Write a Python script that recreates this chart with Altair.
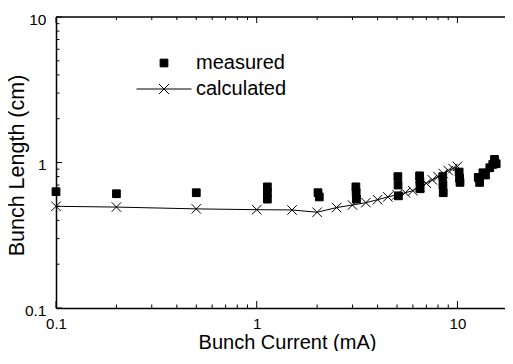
import altair as alt
import pandas as pd

# ---- data ----
measured_current = [0.1, 0.2, 0.5,
                    1.13, 1.13, 1.13,
                    2.02, 2.05,
                    3.12, 3.13, 3.14,
                    5.05, 5.06, 5.08,
                    6.48, 6.5, 6.52,
                    8.45, 8.47, 8.5,
                    10.2, 10.25, 10.3,
                    12.7, 12.9, 13.4, 13.8, 14.5, 15.0, 15.3, 15.6]
measured_length = [0.63, 0.61, 0.62,
                   0.68, 0.62, 0.56,
                   0.62, 0.58,
                   0.68, 0.62, 0.56,
                   0.80, 0.70, 0.59,
                   0.81, 0.74, 0.66,
                   0.80, 0.70, 0.62,
                   0.86, 0.78, 0.73,
                   0.79, 0.73, 0.85, 0.82, 0.92, 0.97, 1.05, 0.98]

calc_current = [0.1, 0.2, 0.5, 1.0, 1.5, 2.0, 2.5, 3.0, 3.5, 4.0, 4.5, 5.0,
                5.5, 6.0, 6.5, 7.0, 7.5, 8.0, 8.5, 9.0, 9.5, 10.0]
calc_length = [0.50, 0.494, 0.48, 0.474, 0.472, 0.455, 0.49, 0.51, 0.53, 0.555,
               0.58, 0.60, 0.62, 0.64, 0.68, 0.72, 0.76, 0.80, 0.84, 0.88, 0.91, 0.94]

series_names = ["measured", "calculated"]

x_major = [0.1, 1, 10]
x_minor = [0.2, 0.3, 0.4, 0.5, 0.6, 0.7, 0.8, 0.9, 2, 3, 4, 5, 6, 7, 8, 9]
y_major = [0.1, 1, 10]
y_minor = [0.2, 0.3, 0.4, 0.5, 0.6, 0.7, 0.8, 0.9, 2, 3, 4, 5, 6, 7, 8, 9]

# ---- layout ----
W, H = 449, 291
FONT = "Liberation Sans"

df_meas = pd.DataFrame({"current": measured_current, "length": measured_length,
                        "series": series_names[0]})
df_calc = pd.DataFrame({"current": calc_current, "length": calc_length})

xs = alt.Scale(type="log", domain=[0.1, 17.26], nice=False)
ys = alt.Scale(type="log", domain=[0.1, 10], nice=False)

SYM = 60
legend_path = "M-7.1,0H7.1M-1.29,-1.29L1.29,1.29M-1.29,1.29L1.29,-1.29"
cross_path = "M-1,-1L1,1M-1,1L1,-1"

x_axis = alt.Axis(values=x_major, format="~g", ticks=False, grid=False,
                  domainColor="black", domainWidth=1.5,
                  labelFontSize=15, labelColor="black", labelPadding=8,
                  labelFlush=False, title="Bunch Current (mA)",
                  titleFontSize=20, titleFontWeight="normal", titleColor="black",
                  titleX=231, titleY=34, titleBaseline="middle", titleAlign="center")
y_axis = alt.Axis(values=y_major, format="~g", ticks=False, grid=False,
                  domainColor="black", domainWidth=1.5,
                  labelFontSize=15.5, labelColor="black", labelPadding=10,
                  labelOffset=2, title="Bunch Length (cm)",
                  titleFontSize=21.5, titleFontWeight="normal", titleColor="black",
                  titleX=-39, titleY=148, titleAngle=270,
                  titleBaseline="middle", titleAlign="center")

X = alt.X("current:Q", scale=xs, axis=x_axis)
Y = alt.Y("length:Q", scale=ys, axis=y_axis)

measured = alt.Chart(df_meas).mark_point(size=SYM, filled=True, opacity=1,
                                          strokeWidth=1).encode(
    x=X, y=Y,
    shape=alt.Shape("series:N", scale=alt.Scale(domain=series_names,
                                                range=["square", legend_path]),
                    legend=alt.Legend(title=None)),
    fill=alt.Fill("series:N", scale=alt.Scale(domain=series_names,
                                              range=["black", "transparent"]),
                  legend=alt.Legend(title=None)),
    stroke=alt.Stroke("series:N", scale=alt.Scale(domain=series_names,
                                                  range=["black", "black"]),
                      legend=alt.Legend(title=None)),
)

line = alt.Chart(df_calc).mark_line(color="black", strokeWidth=1).encode(x=X, y=Y)
crosses = alt.Chart(df_calc).mark_point(shape=cross_path, size=90, filled=False,
                                        fill="transparent", stroke="black",
                                        strokeWidth=1, opacity=1).encode(x=X, y=Y)


def xticks(vals, y0, y1):
    return alt.Chart(pd.DataFrame({"current": vals})).mark_rule(
        color="black", strokeWidth=1).encode(
        x=X, y=alt.value(y0), y2=alt.value(y1))


def yticks(vals, x0, x1):
    return alt.Chart(pd.DataFrame({"length": vals})).mark_rule(
        color="black", strokeWidth=1).encode(
        y=Y, x=alt.value(x0), x2=alt.value(x1))


top_frame = alt.Chart(pd.DataFrame({"a": [0]})).mark_rule(
    color="black", strokeWidth=1.3).encode(
    x=alt.value(0), x2=alt.value(W), y=alt.value(0))

chart = alt.layer(
    top_frame,
    xticks(x_major, H, H - 7), xticks(x_minor, H, H - 3.5),
    xticks(x_major, 0, 6), xticks(x_minor, 0, 3),
    yticks(y_major, 0, 6), yticks(y_minor, 0, 3.5),
    measured, line, crosses,
).properties(
    width=W, height=H,
    autosize=alt.AutoSizeParams(type="none"),
    padding={"left": 48, "top": 9, "right": 0, "bottom": 43},
).configure(font=FONT).configure_view(stroke=None).configure_legend(
    orient="none", legendX=98, legendY=36, padding=0,
    labelFontSize=20, labelColor="black", labelFont=FONT,
    labelOffset=22, rowPadding=6, symbolSize=SYM,
    symbolStrokeColor="black", symbolStrokeWidth=1,
)

chart.save("out.html", embed_options={"renderer": "svg", "actions": False})
